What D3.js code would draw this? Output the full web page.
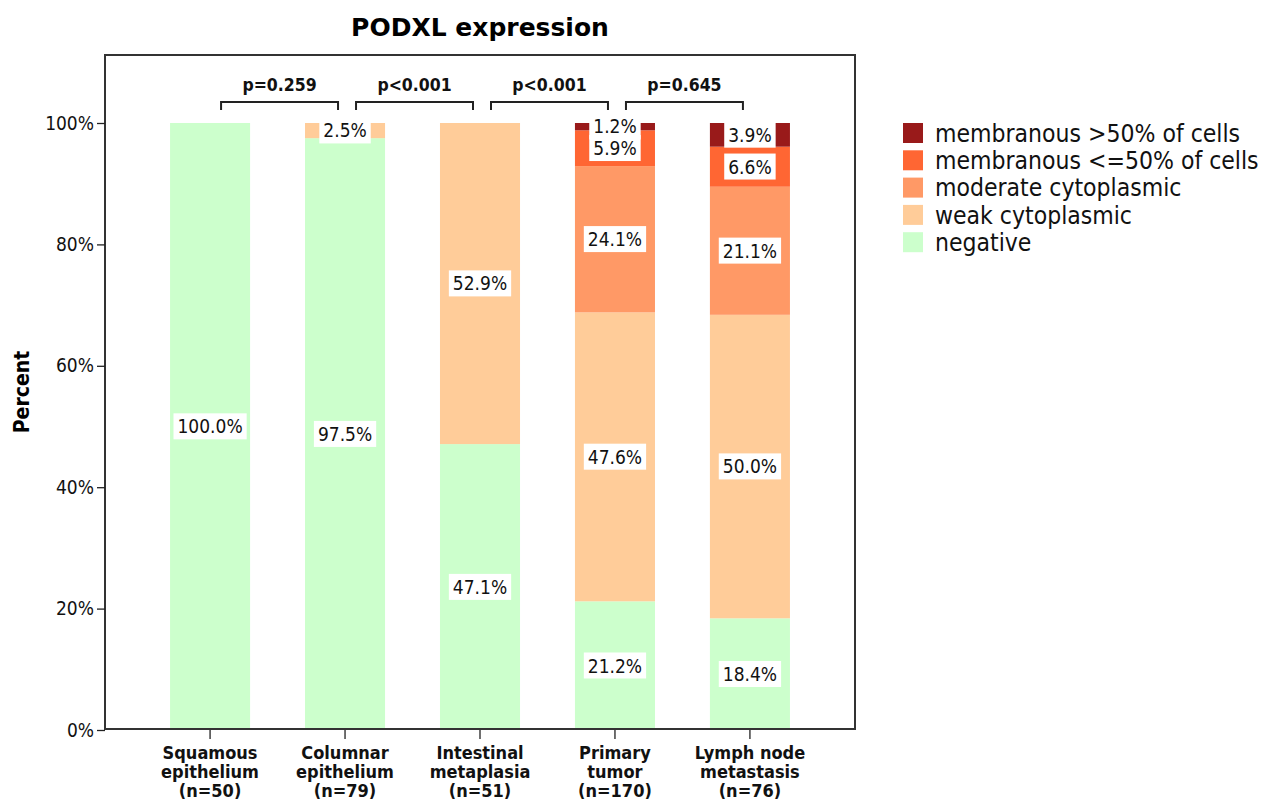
<!DOCTYPE html>
<html>
<head>
<meta charset="utf-8">
<script src="https://cdn.jsdelivr.net/npm/d3@7"></script>
<style>
	body { margin: 0; background: #fff; }
	text { font-family: "DejaVu Sans Condensed", "DejaVu Sans", sans-serif; }
	.bold { font-weight: bold; }
</style>
</head>
<body>
<div id="chart"></div>
<script>
var groups = [ "Squamous epithelium", "Columnar epithelium", "Intestinal metaplasia", "Primary tumor", "Lymph node metastasis" ];
var groupLines = [
	[ "Squamous", "epithelium", "(n=50)" ],
	[ "Columnar", "epithelium", "(n=79)" ],
	[ "Intestinal", "metaplasia", "(n=51)" ],
	[ "Primary", "tumor", "(n=170)" ],
	[ "Lymph node", "metastasis", "(n=76)" ]
];
var categories = [ "negative", "weak cytoplasmic", "moderate cytoplasmic", "membranous <=50% of cells", "membranous >50% of cells" ];
var colors = [ "#ccffcc", "#ffcc99", "#ff9966", "#ff6633", "#991a1a" ];

// percent per category, one array per group
var squamous   = [ 100.0, 0, 0, 0, 0 ];
var columnar   = [ 97.5, 2.5, 0, 0, 0 ];
var intestinal = [ 47.1, 52.9, 0, 0, 0 ];
var primary    = [ 21.2, 47.6, 24.1, 5.9, 1.2 ];
var lymph      = [ 18.4, 50.0, 21.1, 6.6, 3.9 ];
var values = [ squamous, columnar, intestinal, primary, lymph ];

var pvalues = [ "p=0.259", "p<0.001", "p<0.001", "p=0.645" ];
var yTicks = [ 0, 20, 40, 60, 80, 100 ];

var svg = d3.select("#chart").append("svg")
	.attr("width", 1261)
	.attr("height", 800);

var margin = { top: 55, left: 105, right: 855, bottom: 729 };

var x = d3.scaleBand()
	.domain(groups)
	.range([margin.left, margin.right])
	.paddingInner(0.407)
	.paddingOuter(0.482);

var y = d3.scaleLinear()
	.domain([0, 100])
	.range([730, 123]);

// title
svg.append("text")
	.attr("class", "bold")
	.attr("x", 480)
	.attr("y", 36)
	.attr("text-anchor", "middle")
	.style("font-size", "25px")
	.style("font-family", "'DejaVu Sans', sans-serif")
	.text("PODXL expression");

// stacked data
var segs = [];
values.forEach(function(v, gi) {
	var acc = 0;
	v.forEach(function(d, ci) {
		if (d > 0) segs.push({ g: groups[gi], c: ci, y0: acc, y1: acc + d, v: d });
		acc += d;
	});
});

svg.append("g").selectAll("rect")
	.data(segs)
	.enter().append("rect")
		.attr("x", (d) => x(d.g))
		.attr("width", x.bandwidth())
		.attr("y", (d) => y(d.y1))
		.attr("height", (d) => y(d.y0) - y(d.y1))
		.attr("fill", (d) => colors[d.c]);

// frame
svg.append("rect")
	.attr("x", margin.left)
	.attr("y", margin.top)
	.attr("width", margin.right - margin.left)
	.attr("height", margin.bottom - margin.top)
	.attr("fill", "none")
	.attr("stroke", "#333")
	.attr("stroke-width", 2);

// y axis
var yAxis = svg.append("g")
	.attr("transform", "translate(" + margin.left + ",0)")
	.call(d3.axisLeft(y).tickValues(yTicks).tickSize(8).tickFormat((d) => d + "%"));
yAxis.select(".domain").remove();
yAxis.selectAll("line").attr("stroke", "#222").attr("stroke-width", 1.3);
yAxis.selectAll("text")
	.attr("x", -11)
	.style("font-size", "19px")
	.style("font-family", "'DejaVu Sans Condensed', sans-serif")
	.attr("fill", "#111");

svg.append("text")
	.attr("class", "bold")
	.attr("transform", "translate(29,392)rotate(-90)")
	.attr("text-anchor", "middle")
	.style("font-size", "21px")
	.text("Percent");

// x axis
var xAxis = svg.append("g")
	.attr("transform", "translate(0,730)")
	.call(d3.axisBottom(x).tickSize(9).tickFormat(""));
xAxis.select(".domain").remove();
xAxis.selectAll("line").attr("stroke", "#222").attr("stroke-width", 1.3);

groupLines.forEach(function(lines, i) {
	var t = svg.append("text")
		.attr("class", "bold")
		.attr("text-anchor", "middle")
		.style("font-size", "18px")
		.attr("fill", "#111");
	lines.forEach(function(l, j) {
		t.append("tspan")
			.attr("x", x(groups[i]) + x.bandwidth() / 2)
			.attr("y", 759 + j * 19)
			.text(l);
	});
});

// value labels
var lab = svg.append("g").selectAll("g")
	.data(segs)
	.enter().append("g")
		.attr("transform", (d) => "translate(" + (x(d.g) + x.bandwidth() / 2) + "," + y((d.y0 + d.y1) / 2) + ")");

lab.append("text")
	.attr("text-anchor", "middle")
	.attr("dy", "0.36em")
	.style("font-size", "19px")
	.attr("fill", "#111")
	.text((d) => d.v.toFixed(1) + "%");

lab.each(function() {
	var g = d3.select(this);
	var b = g.select("text").node().getBBox();
	g.insert("rect", "text")
		.attr("x", b.x - 4)
		.attr("y", b.y - 2)
		.attr("width", b.width + 8)
		.attr("height", b.height + 4)
		.attr("fill", "#fff");
});

// p-value brackets
pvalues.forEach(function(p, i) {
	var a = x(groups[i]) + x.bandwidth() / 2 + 11;
	var b = x(groups[i + 1]) + x.bandwidth() / 2 - 7;
	svg.append("path")
		.attr("d", "M" + a + ",110V102H" + b + "V110")
		.attr("fill", "none")
		.attr("stroke", "#222")
		.attr("stroke-width", 2);
	svg.append("text")
		.attr("class", "bold")
		.attr("x", (a + b) / 2)
		.attr("y", 91)
		.attr("text-anchor", "middle")
		.style("font-size", "17.5px")
		.attr("fill", "#111")
		.text(p);
});

// legend
var leg = svg.append("g").selectAll("g")
	.data(categories.slice().reverse())
	.enter().append("g")
		.attr("transform", (d, i) => "translate(903," + (123 + i * 27.3) + ")");

leg.append("rect")
	.attr("width", 20)
	.attr("height", 20)
	.attr("fill", (d) => colors[categories.indexOf(d)]);

leg.append("text")
	.attr("x", 32)
	.attr("y", 10)
	.attr("dy", "0.36em")
	.style("font-size", "24.5px")
	.attr("fill", "#111")
	.text((d) => d);
</script>
</body>
</html>
